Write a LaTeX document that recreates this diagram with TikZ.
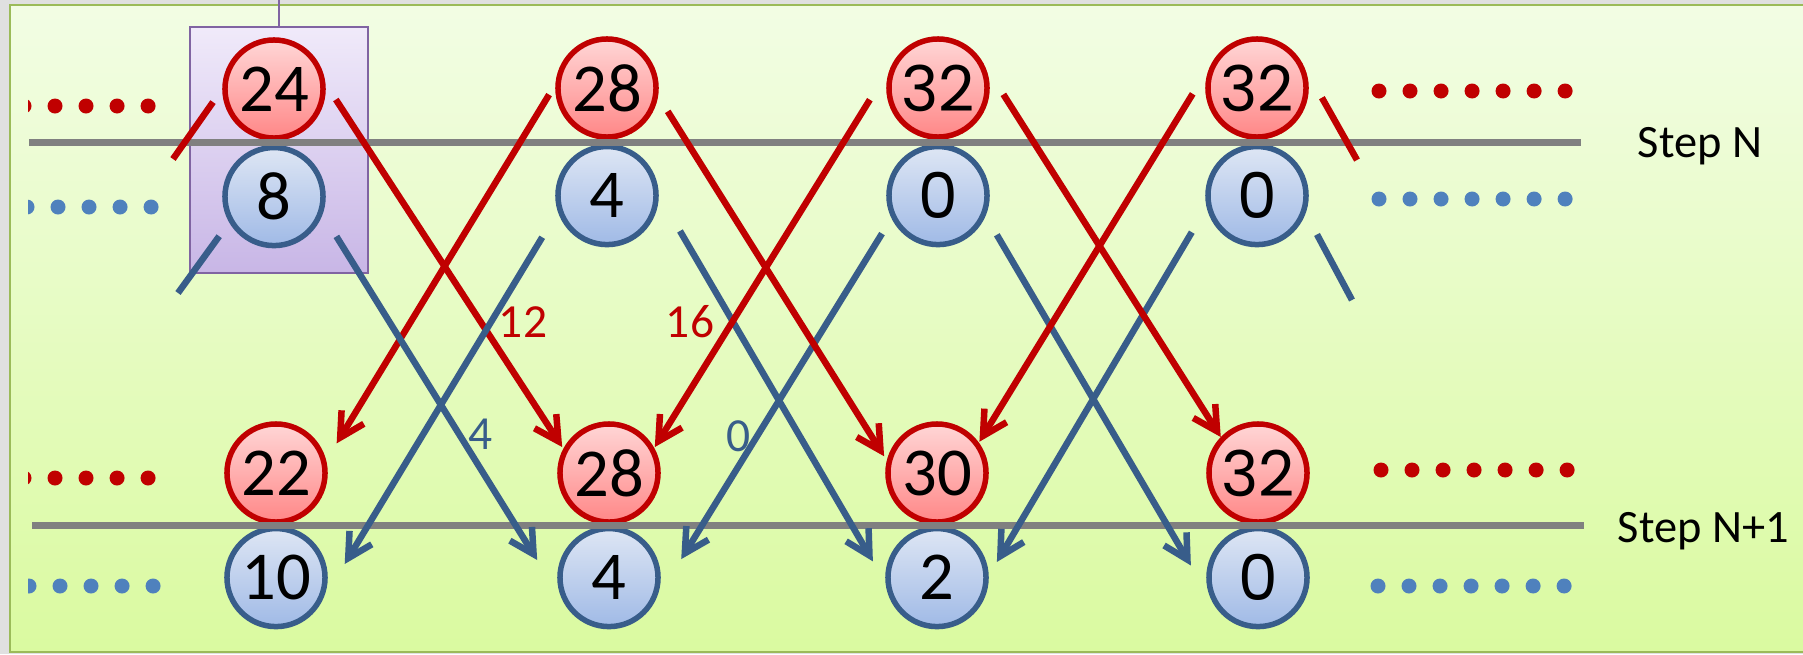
\documentclass[tikz,border=0pt]{standalone}
\usepackage{fontspec}
\setmainfont{Carlito}
\newfontfamily\roundfont{Poppins}[Scale=0.92]
\usetikzlibrary{arrows.meta, positioning}

\definecolor{ballred}{RGB}{192,0,0}
\definecolor{ballblue}{RGB}{56,93,138}
\definecolor{dotblue}{RGB}{79,129,189}
\definecolor{redtop}{RGB}{255,214,214}
\definecolor{redbottom}{RGB}{255,135,135}
\definecolor{bluetop}{RGB}{222,230,244}
\definecolor{bluebottom}{RGB}{160,186,230}
\definecolor{bgtop}{RGB}{242,253,228}
\definecolor{bgbottom}{RGB}{218,250,160}
\definecolor{framegreen}{RGB}{155,187,89}
\definecolor{outergray}{RGB}{224,224,224}
\definecolor{boxtop}{RGB}{240,234,250}
\definecolor{boxbottom}{RGB}{200,182,230}
\definecolor{boxline}{RGB}{128,100,162}

\begin{document}
\begin{tikzpicture}[
  x=0.01cm, y=-0.01cm,
  redball/.style={circle, draw=ballred, line width=0.55mm, top color=redtop, bottom color=redbottom, minimum size=0.98cm, inner sep=0pt, font=\fontsize{19.5}{19.5}\selectfont},
  blueball/.style={circle, draw=ballblue, line width=0.55mm, top color=bluetop, bottom color=bluebottom, minimum size=0.98cm, inner sep=0pt, font=\fontsize{19.5}{19.5}\selectfont},
  redarrow/.style={-{Straight Barb[length=2.4mm, width=2.6mm]}, draw=ballred, line width=0.65mm},
  bluearrow/.style={-{Straight Barb[length=2.4mm, width=2.6mm]}, draw=ballblue, line width=0.65mm},
  redstub/.style={draw=ballred, line width=0.65mm},
  bluestub/.style={draw=ballblue, line width=0.65mm},
  stepline/.style={draw=gray, line width=0.7mm},
  reddots/.style={draw=ballred, line width=1.5mm, line cap=round, dash pattern=on 0pt off 3.1mm},
  bluedots/.style={draw=dotblue, line width=1.5mm, line cap=round, dash pattern=on 0pt off 3.1mm},
  focusbox/.style={rectangle, draw=boxline, line width=0.2mm, top color=boxtop, bottom color=boxbottom, minimum width=1.78cm, minimum height=2.46cm},
  halflabel/.style={font=\fontsize{13.5}{14}\selectfont, inner sep=0pt},
  steplabel/.style={font=\fontsize{13.2}{14}\selectfont, inner sep=0pt, anchor=base west}
]

\useasboundingbox (0,0) rectangle (1803,654);

% Background
\fill[outergray] (0,0) rectangle (1803,654);
\path[draw=framegreen, line width=0.2mm, top color=bgtop, bottom color=bgbottom] (10,5) rectangle (1820,652);

% Highlighted pair
\node[focusbox] (focus) at (279,150) {};
\coordinate (focustop) at (279,0);
\draw[boxline, line width=0.2mm] (focus.north) -- (focustop);

% Dots
\begin{scope}
  \clip (28,0) rectangle (200,654);
  \draw[reddots] (24,106) -- (150,106);
  \draw[bluedots] (27,207) -- (153,207);
  \draw[reddots] (24,478) -- (150,478);
  \draw[bluedots] (29,586) -- (155,586);
\end{scope}
\draw[reddots] (1379,91) -- (1567,91);
\draw[bluedots] (1379,199) -- (1567,199);
\draw[reddots] (1381,470) -- (1569,470);
\draw[bluedots] (1378,586) -- (1566,586);

% Step N
\node[redball] (upred1) at (274,89) {24};
\node[redball] (upred2) at (607,88) {28};
\node[redball] (upred3) at (938,88) {\roundfont 32};
\node[redball] (upred4) at (1257,88) {\roundfont 32};
\node[blueball, below=0.4mm of upred1] (upblue1) {8};
\node[blueball, below=0.4mm of upred2] (upblue2) {4};
\node[blueball, below=0.4mm of upred3] (upblue3) {\roundfont 0};
\node[blueball, below=0.4mm of upred4] (upblue4) {\roundfont 0};

% Step N+1
\node[redball] (lored1) at (276,473) {22};
\node[redball] (lored2) at (609,473) {28};
\node[redball] (lored3) at (937,473) {30};
\node[redball] (lored4) at (1258,473) {\roundfont 32};
\node[blueball, below=0.1mm of lored1] (loblue1) {10};
\node[blueball, below=0.1mm of lored2] (loblue2) {4};
\node[blueball, below=0.1mm of lored3] (loblue3) {2};
\node[blueball, below=0.1mm of lored4] (loblue4) {\roundfont 0};

\draw[stepline] (29,142) -- (1581,142);
\draw[stepline] (32,525) -- (1584,525);
\node[steplabel] (stepN) at (1637,157) {Step N};
\node[steplabel] (stepNext) at (1617,542) {Step N+1};

% Stubs leaving the picture
\coordinate (leftred) at (173,159);
\coordinate (leftblue) at (178,293);
\coordinate (rightred) at (1357,160);
\coordinate (rightblue) at (1352,300);
\draw[redstub, shorten <=1.6mm] (upred1.180) -- (leftred);
\draw[bluestub, shorten <=1.7mm] (upblue1.210.1) -- (leftblue);
\draw[redstub, shorten <=3.9mm] (upred4.28.9) -- (rightred);
\draw[bluestub, shorten <=2.4mm] (upblue4.-20.6) -- (rightblue);

% Arrows
\draw[redarrow, shorten <=1.9mm, shorten >=0.2mm] (upred1.6.5) -- (lored2.152);
\draw[redarrow, shorten <=1.2mm, shorten >=2.0mm] (upred2.176.7) -- (lored1.14.1);
\draw[bluearrow, shorten <=2.6mm, shorten >=5.2mm] (upblue1.-20.3) -- (loblue2.211.1);
\draw[bluearrow, shorten <=3.0mm, shorten >=4.7mm] (upblue2.198) -- (loblue1.-31);
\draw[bluearrow, shorten <=4.2mm, shorten >=2.5mm] (upblue2.1.1) -- (loblue3.186.9);
\draw[bluearrow, shorten <=1.8mm, shorten >=5.3mm] (upblue3.206.5) -- (loblue2.-31);
\draw[bluearrow, shorten <=2.2mm, shorten >=4.4mm] (upblue3.-23.5) -- (loblue4.210.3);
\draw[bluearrow, shorten <=2.9mm, shorten >=1.6mm] (upblue4.193.9) -- (loblue3.2.6);
\draw[redarrow, shorten <=1.8mm, shorten >=0.5mm] (upred2.-9.4) -- (lored3.166.6);
\draw[redarrow, shorten <=4.6mm, shorten >=0.1mm] (upred3.148.8) -- (lored2.29);
\draw[redarrow, shorten <=4.0mm] (upred3.32.2) -- (lored4.136);
\draw[redarrow, shorten <=3.9mm, shorten >=0.1mm] (upred4.148.7) -- (lored3.36);

% Labels
\node[halflabel, ballred] (half24) at (523,322) {12};
\node[halflabel, ballred] (half32) at (690,322) {16};
\node[halflabel, ballblue] (half8) at (481,434) {4};
\node[halflabel, ballblue] (half0) at (739,436) {0};

\end{tikzpicture}
\end{document}
